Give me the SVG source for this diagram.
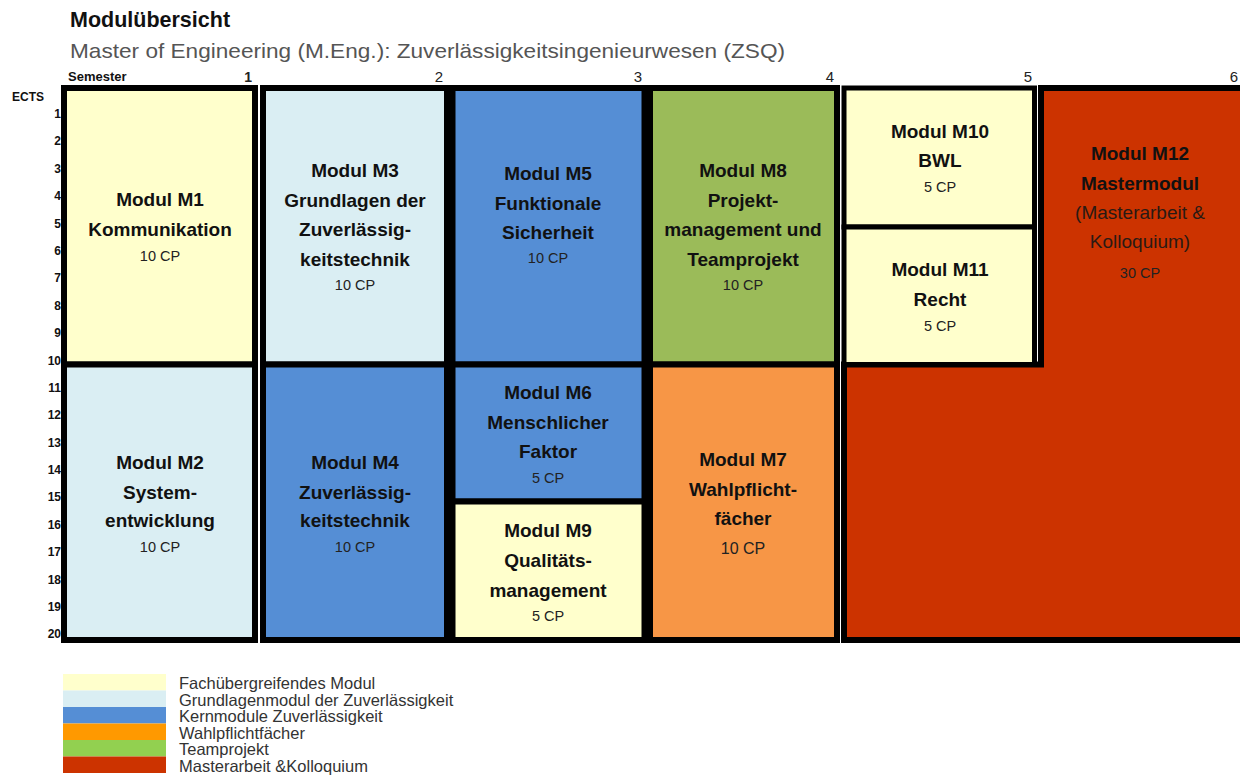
<svg xmlns="http://www.w3.org/2000/svg" width="1240" height="776" viewBox="0 0 1240 776">
<style>
text{font-family:"Liberation Sans",Arial,sans-serif;}
.box{stroke:#000;stroke-width:6;}
.t{font-size:19px;font-weight:bold;fill:#111;text-anchor:middle;}
.r{font-size:19px;fill:#2a1a14;text-anchor:middle;}
.cp{font-size:14.5px;fill:#222;text-anchor:middle;}
.num{font-size:12px;font-weight:bold;fill:#111;text-anchor:end;}
.sem{font-size:15px;fill:#222;text-anchor:end;}
.leg{font-size:16.5px;fill:#333;}
.y{fill:#FFFFCC;}
.lb{fill:#DAEEF3;}
.b{fill:#558ED5;}
.g{fill:#9BBB59;}
.o{fill:#F79646;}
.red{fill:#CC3300;}
</style>
<rect width="1240" height="776" fill="#fff"/>
<g id="header">
<text x="70" y="27" style="font-size:21.5px;font-weight:bold;fill:#111">Modulübersicht</text>
<text x="70" y="58" style="font-size:21px;fill:#555" textLength="715" lengthAdjust="spacingAndGlyphs">Master of Engineering (M.Eng.): Zuverlässigkeitsingenieurwesen (ZSQ)</text>
<text x="68" y="81" style="font-size:13px;font-weight:bold;fill:#111">Semester</text>
<text x="12" y="101" style="font-size:12px;font-weight:bold;fill:#111">ECTS</text>
<text x="252" y="82" class="sem" style="font-weight:bold;font-size:14px">1</text>
<text x="443" y="82" class="sem">2</text>
<text x="642" y="82" class="sem">3</text>
<text x="834" y="82" class="sem">4</text>
<text x="1032" y="82" class="sem">5</text>
<text x="1238" y="82" class="sem">6</text>
</g>
<g id="ects-axis">
<text x="61" y="118" class="num">1</text>
<text x="61" y="145" class="num">2</text>
<text x="61" y="173" class="num">3</text>
<text x="61" y="200" class="num">4</text>
<text x="61" y="228" class="num">5</text>
<text x="61" y="255" class="num">6</text>
<text x="61" y="282" class="num">7</text>
<text x="61" y="310" class="num">8</text>
<text x="61" y="337" class="num">9</text>
<text x="61" y="365" class="num">10</text>
<text x="61" y="392" class="num">11</text>
<text x="61" y="419" class="num">12</text>
<text x="61" y="447" class="num">13</text>
<text x="61" y="474" class="num">14</text>
<text x="61" y="501" class="num">15</text>
<text x="61" y="529" class="num">16</text>
<text x="61" y="556" class="num">17</text>
<text x="61" y="584" class="num">18</text>
<text x="61" y="611" class="num">19</text>
<text x="61" y="638" class="num">20</text>
</g>
<g id="M1">
<rect x="64" y="88" width="191" height="276.5" class="box y"/>
<text x="160" y="206" class="t">Modul M1</text>
<text x="160" y="236" class="t">Kommunikation</text>
<text x="160" y="261" class="cp">10 CP</text>
</g>
<g id="M2">
<rect x="64" y="364.5" width="191" height="275.5" class="box lb"/>
<text x="160" y="469" class="t">Modul M2</text>
<text x="160" y="499" class="t">System-</text>
<text x="160" y="527" class="t">entwicklung</text>
<text x="160" y="552" class="cp">10 CP</text>
</g>
<g id="M3">
<rect x="263" y="88" width="184" height="276.5" class="box lb"/>
<text x="355" y="177" class="t">Modul M3</text>
<text x="355" y="207" class="t">Grundlagen der</text>
<text x="355" y="236" class="t">Zuverlässig-</text>
<text x="355" y="266" class="t">keitstechnik</text>
<text x="355" y="290" class="cp">10 CP</text>
</g>
<g id="M4">
<rect x="263" y="364.5" width="184" height="275.5" class="box b"/>
<text x="355" y="469" class="t">Modul M4</text>
<text x="355" y="499" class="t">Zuverlässig-</text>
<text x="355" y="527" class="t">keitstechnik</text>
<text x="355" y="552" class="cp">10 CP</text>
</g>
<g id="M5">
<rect x="452.5" y="88" width="192" height="276.5" class="box b"/>
<text x="548" y="180" class="t">Modul M5</text>
<text x="548" y="210" class="t">Funktionale</text>
<text x="548" y="239" class="t">Sicherheit</text>
<text x="548" y="263" class="cp">10 CP</text>
</g>
<g id="M6">
<rect x="452.5" y="364.5" width="192" height="137" class="box b"/>
<text x="548" y="399" class="t">Modul M6</text>
<text x="548" y="429" class="t">Menschlicher</text>
<text x="548" y="458" class="t">Faktor</text>
<text x="548" y="483" class="cp">5 CP</text>
</g>
<g id="M9">
<rect x="452.5" y="501.5" width="192" height="138.5" class="box y"/>
<text x="548" y="537" class="t">Modul M9</text>
<text x="548" y="567" class="t">Qualitäts-</text>
<text x="548" y="597" class="t">management</text>
<text x="548" y="621" class="cp">5 CP</text>
</g>
<g id="M8">
<rect x="650" y="88" width="187" height="276.5" class="box g"/>
<text x="743" y="177" class="t">Modul M8</text>
<text x="743" y="207" class="t">Projekt-</text>
<text x="743" y="236" class="t">management und</text>
<text x="743" y="266" class="t">Teamprojekt</text>
<text x="743" y="290" class="cp">10 CP</text>
</g>
<g id="M7">
<rect x="650" y="364.5" width="187" height="275.5" class="box o"/>
<text x="743" y="466" class="t">Modul M7</text>
<text x="743" y="496" class="t">Wahlpflicht-</text>
<text x="743" y="525" class="t">fächer</text>
<text x="743" y="554" class="cp" style="font-size:16px">10 CP</text>
</g>
<g id="M12">
<path d="M1041 88 H1243 V640 H844 V364.5 H1041 Z" class="box red"/>
<text x="1140" y="160" class="t">Modul M12</text>
<text x="1140" y="190" class="t">Mastermodul</text>
<text x="1140" y="219" class="r">(Masterarbeit &amp;</text>
<text x="1140" y="248" class="r">Kolloquium)</text>
<text x="1140" y="278" class="cp">30 CP</text>
</g>
<g id="M10">
<rect x="844" y="88" width="190.5" height="139" class="box y" style="stroke-width:5"/>
<text x="940" y="138" class="t">Modul M10</text>
<text x="940" y="167" class="t">BWL</text>
<text x="940" y="192" class="cp">5 CP</text>
</g>
<g id="M11">
<rect x="844" y="227" width="190.5" height="137.5" class="box y" style="stroke-width:5"/>
<text x="940" y="276" class="t">Modul M11</text>
<text x="940" y="306" class="t">Recht</text>
<text x="940" y="331" class="cp">5 CP</text>
</g>
<g id="legend">
<rect x="63" y="674" width="103" height="16.5" fill="#FFFFCC"/>
<rect x="63" y="690.5" width="103" height="16.5" fill="#DAEEF3"/>
<rect x="63" y="707" width="103" height="16.5" fill="#558ED5"/>
<rect x="63" y="723.5" width="103" height="16.5" fill="#FF9900"/>
<rect x="63" y="740" width="103" height="16.5" fill="#92D050"/>
<rect x="63" y="756.5" width="103" height="16.5" fill="#CC3300"/>
<text x="179" y="689" class="leg">Fachübergreifendes Modul</text>
<text x="179" y="705.5" class="leg">Grundlagenmodul der Zuverlässigkeit</text>
<text x="179" y="722" class="leg">Kernmodule Zuverlässigkeit</text>
<text x="179" y="738.5" class="leg">Wahlpflichtfächer</text>
<text x="179" y="755" class="leg">Teamprojekt</text>
<text x="179" y="771.5" class="leg">Masterarbeit &amp;Kolloquium</text>
</g>
</svg>
